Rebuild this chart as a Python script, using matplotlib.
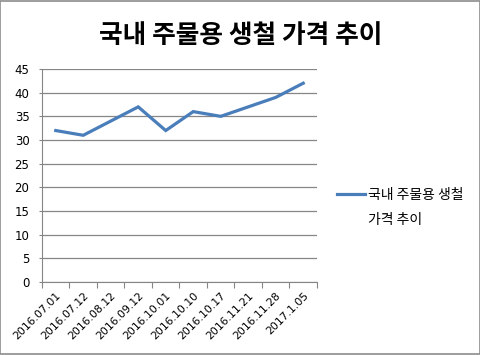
import matplotlib.pyplot as plt
from matplotlib.patches import Rectangle

dates = ['2016.07.01', '2016.07.12', '2016.08.12', '2016.09.12', '2016.10.01',
         '2016.10.10', '2016.10.17', '2016.11.21', '2016.11.28', '2017.1.05']
prices = [32, 31, 34, 37, 32, 36, 35, 37, 39, 42]
series_lines = ['국내 주물용 생철', '가격 추이']
title = '국내 주물용 생철 가격 추이'

plt.rcParams['font.family'] = ['Noto Sans CJK KR', 'DejaVu Sans']

fig = plt.figure(figsize=(4.81, 3.55), dpi=100)
fig.patches.append(Rectangle((0.001, 0.002), 0.997, 0.995, transform=fig.transFigure,
                             fill=False, edgecolor='#8c8c8c', linewidth=1.2))

ax = fig.add_axes([0.0873, 0.2056, 0.5717, 0.6])
x = list(range(len(dates)))
line, = ax.plot(x, prices, color='#4a7ebb', linewidth=2.3, solid_joinstyle='miter')

ax.set_xlim(-0.5, len(dates) - 0.5)
ax.set_ylim(0, 45)
ax.set_yticks(range(0, 46, 5))
ax.yaxis.grid(True, color='#868686', linewidth=0.9)
ax.set_axisbelow(True)

for s in ['top', 'right']:
    ax.spines[s].set_visible(False)
ax.spines['left'].set_color('#868686')
ax.spines['bottom'].set_color('#868686')

# tick marks between categories, labels at category centres
ax.set_xticks([i - 0.5 for i in range(len(dates) + 1)])
ax.set_xticklabels([])
ax.set_xticks(x, minor=True)
ax.set_xticklabels(dates, minor=True, rotation=45, ha='right', rotation_mode='anchor',
                   fontsize=7.8, family='DejaVu Sans')
ax.tick_params(axis='x', which='major', length=4, color='#868686')
ax.tick_params(axis='x', which='minor', length=0, pad=6)
ax.tick_params(axis='y', length=2, color='#868686', labelsize=8.5, pad=7)
for t in ax.get_yticklabels():
    t.set_family('DejaVu Sans')

fig.text(0.5, 0.9, title, ha='center', va='center', fontsize=18.5, fontweight='bold')

leg = fig.legend([line], [series_lines[0]], loc='center left', bbox_to_anchor=(0.701, 0.45),
                 frameon=False, fontsize=10, handlelength=2.0, handletextpad=0.25,
                 borderaxespad=0, borderpad=0)
fig.canvas.draw()
bb = leg.get_texts()[0].get_window_extent().transformed(fig.transFigure.inverted())
fig.text(bb.x0, 0.38, series_lines[1], ha='left', va='center', fontsize=10)

fig.savefig('out.png', dpi=100)
